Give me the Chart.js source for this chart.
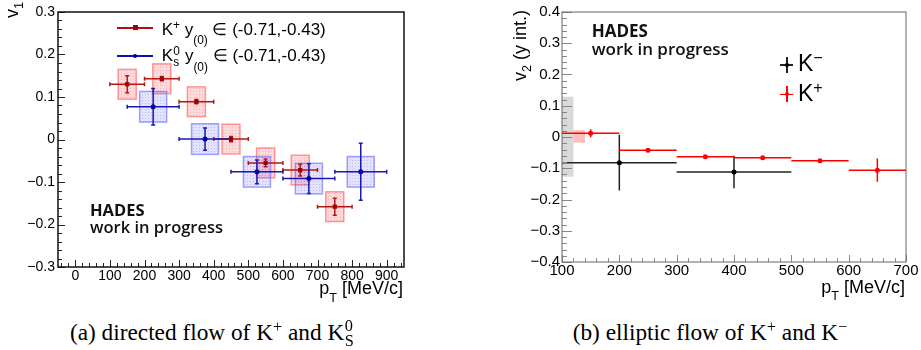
<!DOCTYPE html>
<html><head><meta charset="utf-8">
<title>Kaon flow</title>
<script src="https://cdn.jsdelivr.net/npm/chart.js@4.4.1/dist/chart.umd.min.js"></script>
<style>
html,body{margin:0;padding:0;background:#fff}
body{position:relative;width:921px;height:350px;overflow:hidden;font-family:'Liberation Sans',Arial,sans-serif;color:#000}
canvas{position:absolute;top:0}
#ca{left:0}
#cb{left:460px}
.t{position:absolute;white-space:nowrap;line-height:1}
.hd{font-family:'Open Sans',sans-serif;color:#111}
.sup{font-size:0.7em;position:relative;top:-0.5em}
.sub{font-size:0.7em;position:relative;top:0.36em}
.subL{font-size:0.7em;position:relative;top:0.8em}
.subT{font-size:0.7em;position:relative;top:0.62em}
.stk{display:inline-block;position:relative;width:0.42em;height:0}
.stk .hi,.stk .lo{position:absolute;left:0.02em;line-height:1}
.stk .hi{top:-1.2em}
.stk .lo{top:-0.53em}
.stk small{font-size:0.7em}
.cap{font-family:'Liberation Serif','Times New Roman',serif;font-size:23.3px;text-align:center}
.cap .sup{top:-0.45em}
.rot{width:200px;text-align:right;transform-origin:0 0;transform:rotate(-90deg);font-size:18px}
.sym{position:absolute}
</style>
</head>
<body>
<canvas id="ca" width="460" height="300"></canvas>
<canvas id="cb" width="461" height="300"></canvas>

<!-- panel (a) texts -->
<div class="t rot" style="left:2.8px;top:202px">v<span class="sub">1</span></div>
<div class="t" style="right:518px;top:279.3px;font-size:18px">p<span class="subT">T</span> [MeV/c]</div>
<div class="t hd" style="left:90px;top:202px;font-size:16.5px;font-weight:700">HADES</div>
<div class="t hd" style="left:90px;top:218.6px;font-size:16.5px;font-weight:600">work in progress</div>
<div class="t" style="left:161.7px;top:20.6px;font-size:17px">K<span class="sup">+</span> y<span class="subL">(0)</span> ∈ (-0.71,-0.43)</div>
<div class="t" style="left:161.7px;top:47.3px;font-size:17px">K<span class="stk"><span class="hi"><small>0</small></span><span class="lo"><small>s</small></span></span> y<span class="subL">(0)</span> ∈ (-0.71,-0.43)</div>
<div class="sym" style="left:116.7px;top:27px;width:36px;height:1.5px;background:#b01010"></div>
<div class="sym" style="left:132.5px;top:25.2px;width:5px;height:5px;background:#a00000"></div>
<div class="sym" style="left:116.7px;top:55px;width:36px;height:1.5px;background:#1010b0"></div>
<div class="sym" style="left:133px;top:53.7px;width:4px;height:4px;border-radius:50%;background:#0000a0"></div>
<div class="t cap" style="left:0;width:424px;top:320.5px">(a) directed flow of K<span class="sup">+</span> and K<span class="stk"><span class="hi"><small>0</small></span><span class="lo"><small>S</small></span></span></div>

<!-- panel (b) texts -->
<div class="t rot" style="left:511.3px;top:210px">v<span class="sub">2</span> (y int.)</div>
<div class="t" style="right:16px;top:277.7px;font-size:18px">p<span class="subT">T</span> [MeV/c]</div>
<div class="t hd" style="left:591.7px;top:22.2px;font-size:17px;font-weight:700">HADES</div>
<div class="t hd" style="left:591.7px;top:39.9px;font-size:17px;font-weight:600">work in progress</div>
<div class="t" style="left:798px;top:52.2px;font-size:23px">K<span class="sup">−</span></div>
<div class="t" style="left:798px;top:82.2px;font-size:23px">K<span class="sup">+</span></div>
<div class="sym" style="left:780px;top:64.3px;width:13.4px;height:1.5px;background:#222"></div>
<div class="sym" style="left:786px;top:57px;width:1.5px;height:16px;background:#222"></div>
<div class="sym" style="left:784.7px;top:63px;width:4px;height:4px;border-radius:50%;background:#000"></div>
<div class="sym" style="left:780px;top:93.6px;width:13.4px;height:1.5px;background:#ff0000"></div>
<div class="sym" style="left:786px;top:86.3px;width:1.5px;height:16px;background:#ff0000"></div>
<div class="sym" style="left:784.7px;top:92.3px;width:4px;height:4px;border-radius:50%;background:#ff0000"></div>
<div class="t cap" style="left:499px;width:422px;top:320.5px">(b) elliptic flow of K<span class="sup">+</span> and K<span class="sup">−</span></div>

<script>
// ---------------- Panel (a): directed flow v1 vs pT ----------------
const kpPt      = [150, 250, 350, 450, 550, 650, 750];
const kpPtErr   = [50, 50, 50, 50, 50, 50, 50];
const kpPtSys   = [26, 26, 26, 26, 26, 26, 26];
const kpV1      = [0.130, 0.143, 0.089, 0.001, -0.055, -0.072, -0.158];
const kpV1Stat  = [0.020, 0.005, 0.005, 0.006, 0.009, 0.014, 0.020];
const kpV1Sys   = [0.035, 0.035, 0.035, 0.035, 0.035, 0.035, 0.035];

const k0Pt      = [225, 375, 525, 675, 825];
const k0PtErr   = [75, 75, 75, 75, 75];
const k0PtSys   = [39, 39, 39, 39, 39];
const k0V1      = [0.077, 0.001, -0.076, -0.092, -0.076];
const k0V1Stat  = [0.043, 0.026, 0.028, 0.035, 0.067];
const k0V1Sys   = [0.036, 0.036, 0.036, 0.036, 0.036];

const v1XTicks  = [0, 100, 200, 300, 400, 500, 600, 700, 800, 900];
const v1YTicks  = [-0.3, -0.2, -0.1, 0, 0.1, 0.2, 0.3];

// ---------------- Panel (b): elliptic flow v2 vs pT ----------------
const kpV2Pt    = [150, 250, 350, 450, 550, 650];
const kpV2PtErr = [50, 50, 50, 50, 50, 50];
const kpV2      = [0.012, -0.042, -0.063, -0.066, -0.076, -0.106];
const kpV2Stat  = [0.013, 0.004, 0.004, 0.004, 0.004, 0.037];

const kmV2Pt    = [200, 400];
const kmV2PtErr = [100, 100];
const kmV2      = [-0.082, -0.112];
const kmV2Stat  = [0.089, 0.052];

// integrated systematic bands (K-, K+)
const sysV2Pt     = [110, 130];
const sysV2PtHalf = [10, 10];
const sysV2       = [0.001, 0.002];
const sysV2Half   = [0.128, 0.020];

const v2XTicks  = [100, 200, 300, 400, 500, 600, 700];
const v2YTicks  = [-0.4, -0.3, -0.2, -0.1, 0, 0.1, 0.2, 0.3, 0.4];

// ---------------- helpers ----------------
Chart.defaults.font.family = "'Liberation Sans', Arial, sans-serif";
const fmt = v => v === 0 ? '0' : (v < 0 ? '\u2212' : '') + String(Math.abs(v));
const pts = (xs, ys) => xs.map((x, i) => ({x, y: ys[i]}));

function drawBoxes(chart, xs, dxs, ys, dys, fill, stroke, dots) {
  const {ctx, scales: {x, y}} = chart;
  for (let i = 0; i < xs.length; i++) {
    const l = x.getPixelForValue(xs[i] - dxs[i]), r = x.getPixelForValue(xs[i] + dxs[i]);
    const t = y.getPixelForValue(ys[i] + dys[i]), b = y.getPixelForValue(ys[i] - dys[i]);
    ctx.fillStyle = fill; ctx.fillRect(l, t, r - l, b - t);
    if (dots) { ctx.fillStyle = dots; ctx.fillRect(l, t, r - l, b - t); }
    if (stroke) { ctx.strokeStyle = stroke; ctx.lineWidth = 1.5; ctx.strokeRect(l, t, r - l, b - t); }
  }
}
function drawErrs(chart, xs, dxs, ys, dys, color, lw, cap) {
  const {ctx, scales: {x, y}} = chart;
  ctx.strokeStyle = color; ctx.lineWidth = lw; ctx.beginPath();
  for (let i = 0; i < xs.length; i++) {
    const px = x.getPixelForValue(xs[i]), py = y.getPixelForValue(ys[i]);
    const l = x.getPixelForValue(xs[i] - dxs[i]), r = x.getPixelForValue(xs[i] + dxs[i]);
    const t = y.getPixelForValue(ys[i] + dys[i]), b = y.getPixelForValue(ys[i] - dys[i]);
    ctx.moveTo(l, py); ctx.lineTo(r, py);
    ctx.moveTo(px, t); ctx.lineTo(px, b);
    if (cap) {
      ctx.moveTo(px - cap, t); ctx.lineTo(px + cap, t);
      ctx.moveTo(px - cap, b); ctx.lineTo(px + cap, b);
      ctx.moveTo(l, py - cap); ctx.lineTo(l, py + cap);
      ctx.moveTo(r, py - cap); ctx.lineTo(r, py + cap);
    }
  }
  ctx.stroke();
}
function dotPattern(ctx, rgba) {
  const c = document.createElement('canvas'); c.width = 3; c.height = 3;
  const g = c.getContext('2d'); g.fillStyle = rgba; g.fillRect(1, 1, 1, 1);
  return ctx.createPattern(c, 'repeat');
}

const rootAxes = {
  id: 'rootAxes',
  afterDatasetsDraw(chart, args, o) {
    const {ctx, chartArea: a, scales: {x, y}} = chart;
    ctx.save();
    ctx.strokeStyle = o.tickColor; ctx.lineWidth = 1;
    ctx.beginPath();
    for (let k = Math.ceil(x.min / o.xMinor - 1e-9); k * o.xMinor <= x.max + 1e-9; k++) {
      const v = k * o.xMinor, q = v / o.xMajor;
      const major = Math.abs(q - Math.round(q)) < 1e-6;
      const px = Math.round(x.getPixelForValue(v)) + 0.5;
      ctx.moveTo(px, a.bottom); ctx.lineTo(px, a.bottom - (major ? o.xMajLen : o.xMinLen));
    }
    for (let k = Math.ceil(y.min / o.yMinor - 1e-9); k * o.yMinor <= y.max + 1e-9; k++) {
      const v = k * o.yMinor, q = v / o.yMajor;
      const major = Math.abs(q - Math.round(q)) < 1e-6;
      const py = Math.round(y.getPixelForValue(v)) + 0.5;
      ctx.moveTo(a.left, py); ctx.lineTo(a.left + (major ? o.yMajLen : o.yMinLen), py);
    }
    ctx.stroke();
    ctx.strokeStyle = o.frameColor; ctx.lineWidth = o.frameWidth;
    ctx.strokeRect(a.left, a.top, a.right - a.left, a.bottom - a.top);
    ctx.restore();
  }
};

function axis(min, max, tickVals, size, pad, fitKey, fitVal) {
  return {
    type: 'linear', min, max,
    afterBuildTicks: s => { s.ticks = tickVals.map(v => ({value: v})); },
    afterFit: s => { s[fitKey] = fitVal; },
    grid: {display: false, drawTicks: false},
    border: {display: false},
    ticks: {autoSkip: false, maxRotation: 0, minRotation: 0, padding: pad, color: '#000',
            font: {size}, callback: v => fmt(v)}
  };
}

// ---------------- Chart (a) ----------------
const panelA = {
  id: 'panelA',
  beforeDatasetsDraw(chart) {
    const {ctx, chartArea: a} = chart;
    ctx.save();
    ctx.beginPath(); ctx.rect(a.left, a.top, a.right - a.left, a.bottom - a.top); ctx.clip();
    drawBoxes(chart, kpPt, kpPtSys, kpV1, kpV1Sys, 'rgba(255,70,70,0.20)', 'rgba(255,90,90,0.6)', dotPattern(ctx, 'rgba(255,60,60,0.25)'));
    drawBoxes(chart, k0Pt, k0PtSys, k0V1, k0V1Sys, 'rgba(70,70,255,0.15)', 'rgba(100,100,255,0.6)', dotPattern(ctx, 'rgba(60,60,255,0.22)'));
    drawErrs(chart, kpPt, kpPtErr, kpV1, kpV1Stat, '#b01818', 1.5, 2);
    drawErrs(chart, k0Pt, k0PtErr, k0V1, k0V1Stat, '#1818b0', 1.5, 2);
    ctx.restore();
  }
};

new Chart(document.getElementById('ca'), {
  type: 'scatter',
  data: {datasets: [
    {label: 'K+', data: pts(kpPt, kpV1), pointStyle: 'rect', pointRadius: 3, backgroundColor: '#a00000', borderColor: '#a00000', borderWidth: 0},
    {label: 'K0s', data: pts(k0Pt, k0V1), pointStyle: 'circle', pointRadius: 2.5, backgroundColor: '#0000a0', borderColor: '#0000a0', borderWidth: 0}
  ]},
  options: {
    responsive: false, animation: false, devicePixelRatio: 1,
    layout: {padding: {left: 0, top: 12, right: 56, bottom: 0}},
    scales: {x: axis(-50, 950, v1XTicks, 14, 1, 'height', 33), y: axis(-0.3, 0.3, v1YTicks, 14, 3, 'width', 58)},
    plugins: {legend: {display: false}, tooltip: {enabled: false},
      rootAxes: {tickColor: '#222', frameColor: '#111', frameWidth: 1.5,
        xMinor: 20, xMajor: 100, yMinor: 0.02, yMajor: 0.1,
        xMajLen: 7, xMinLen: 4, yMajLen: 7, yMinLen: 4}}
  },
  plugins: [panelA, rootAxes]
});

// ---------------- Chart (b) ----------------
const panelB = {
  id: 'panelB',
  beforeDatasetsDraw(chart) {
    const {ctx, chartArea: a} = chart;
    ctx.save();
    ctx.beginPath(); ctx.rect(a.left, a.top, a.right - a.left, a.bottom - a.top); ctx.clip();
    drawBoxes(chart, sysV2Pt.slice(0, 1), sysV2PtHalf.slice(0, 1), sysV2.slice(0, 1), sysV2Half.slice(0, 1), 'rgba(128,128,128,0.30)', null, null);
    drawBoxes(chart, sysV2Pt.slice(1), sysV2PtHalf.slice(1), sysV2.slice(1), sysV2Half.slice(1), 'rgba(255,0,0,0.25)', null, null);
    drawErrs(chart, kmV2Pt, kmV2PtErr, kmV2, kmV2Stat, '#222', 1.5, 0);
    drawErrs(chart, kpV2Pt, kpV2PtErr, kpV2, kpV2Stat, '#ff0000', 1.5, 0);
    ctx.restore();
  }
};

new Chart(document.getElementById('cb'), {
  type: 'scatter',
  data: {datasets: [
    {label: 'K-', data: pts(kmV2Pt, kmV2), pointStyle: 'circle', pointRadius: 2.5, backgroundColor: '#000', borderColor: '#000', borderWidth: 0},
    {label: 'K+', data: pts(kpV2Pt, kpV2), pointStyle: 'circle', pointRadius: 2.5, backgroundColor: '#ff0000', borderColor: '#ff0000', borderWidth: 0}
  ]},
  options: {
    responsive: false, animation: false, devicePixelRatio: 1,
    layout: {padding: {left: 0, top: 12, right: 15, bottom: 0}},
    scales: {x: axis(100, 700, v2XTicks, 15, 0, 'height', 38), y: axis(-0.4, 0.4, v2YTicks, 15, 2, 'width', 102)},
    plugins: {legend: {display: false}, tooltip: {enabled: false},
      rootAxes: {tickColor: '#888', frameColor: '#666', frameWidth: 1,
        xMinor: 20, xMajor: 100, yMinor: 0.02, yMajor: 0.1,
        xMajLen: 7, xMinLen: 4, yMajLen: 10, yMinLen: 5}}
  },
  plugins: [panelB, rootAxes]
});
</script>
</body></html>
